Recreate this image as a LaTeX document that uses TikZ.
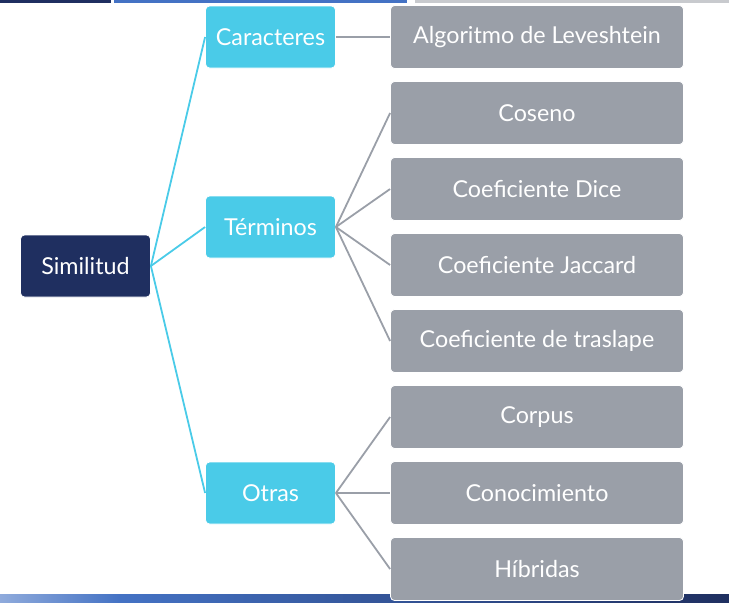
\documentclass[tikz,border=0pt]{standalone}
\usepackage{fontspec}
\setmainfont{Lato}
\usepackage{xcolor}
\usepackage{tikz}

\definecolor{navy}{RGB}{31,47,96}
\definecolor{sky}{RGB}{74,203,232}
\definecolor{slate}{RGB}{154,159,168}
\definecolor{barblue}{RGB}{68,114,196}
\definecolor{bargrey}{RGB}{200,202,206}

\tikzset{
  box/.style={rectangle, rounded corners=4pt, draw=white, line width=0.8pt,
    text=white, font=\fontsize{23.3}{26}\selectfont, inner sep=0pt},
  rootbox/.style={box, fill=navy, minimum width=130pt, minimum height=62pt},
  midbox/.style={box, fill=sky, minimum width=130pt, minimum height=62pt},
  leafbox/.style={box, fill=slate, minimum width=293pt, minimum height=63pt},
  skyline/.style={sky, line width=1.8pt},
  greyline/.style={slate, line width=1.8pt}
}

\begin{document}
\begin{tikzpicture}[x=1pt,y=-1pt]
\useasboundingbox (0,0) rectangle (729,603);

% slide bars
\fill[navy] (0,0) rectangle (111,3);
\fill[barblue] (114,0) rectangle (407,3);
\fill[bargrey] (415,0) rectangle (729,3);
\shade[left color=barblue!60!white, right color=barblue] (0,594) rectangle (120,603);
\shade[left color=barblue, right color=navy] (120,594) rectangle (729,603);

% first and second level
\node[rootbox] (sim) at (85.5,266) {Similitud};
\node[midbox] (car) at (270.5,37) {Caracteres};
\node[midbox] (ter) at (270.5,227) {Términos};
\node[midbox] (otr) at (270.5,493) {Otras};

% leaves
\node[leafbox] (lev) at (537,37) {Algoritmo de Leveshtein};
\node[leafbox] (cos) at (537,113) {Coseno};
\node[leafbox] (dic) at (537,189) {Coeficiente Dice};
\node[leafbox] (jac) at (537,265) {Coeficiente Jaccard};
\node[leafbox] (tra) at (537,341) {Coeficiente de traslape};
\node[leafbox] (cor) at (537,417) {Corpus};
\node[leafbox] (con) at (537,493) {Conocimiento};
\node[leafbox] (hib) at (537,569) {Híbridas};

% connectors
\draw[skyline] (sim.east) -- (car.west);
\draw[skyline] (sim.east) -- (ter.west);
\draw[skyline] (sim.east) -- (otr.west);

\draw[greyline] (car.east) -- (lev.west);
\draw[greyline] (ter.east) -- (cos.west);
\draw[greyline] (ter.east) -- (dic.west);
\draw[greyline] (ter.east) -- (jac.west);
\draw[greyline] (ter.east) -- (tra.west);
\draw[greyline] (otr.east) -- (cor.west);
\draw[greyline] (otr.east) -- (con.west);
\draw[greyline] (otr.east) -- (hib.west);
\end{tikzpicture}
\end{document}
